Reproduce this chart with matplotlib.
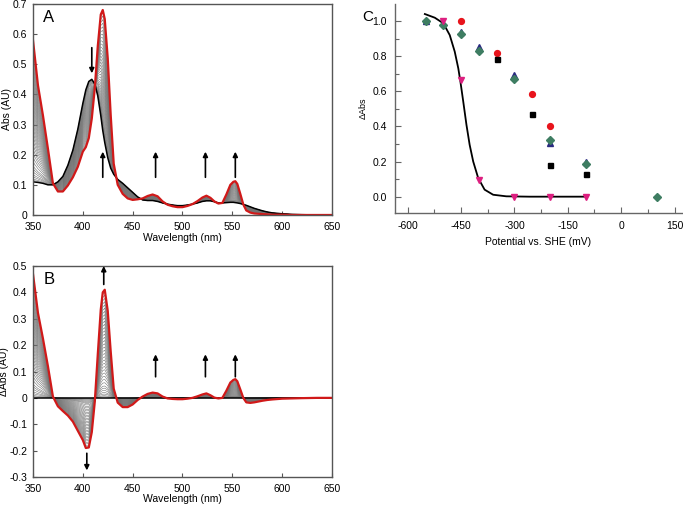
import numpy as np
import matplotlib
matplotlib.use("Agg")
from matplotlib import pyplot as plt

plt.rcParams['font.family'] = ['Liberation Sans', 'DejaVu Sans']
plt.rcParams['axes.unicode_minus'] = False

# wavelength grid (nm) and end-point spectra
wl = [350, 355, 360, 365, 370, 375, 380, 385, 390, 395, 400, 403, 406, 409, 412,
      415, 418, 420, 422, 425, 428, 431, 435, 440, 445, 450, 455, 460, 465, 470,
      475, 480, 485, 490, 495, 500, 505, 510, 515, 520, 524, 528, 532, 536, 540,
      544, 548, 551, 553, 555, 558, 561, 564, 568, 572, 576, 580, 585, 590, 600,
      610, 620, 635, 650]
abs_ox = [0.110, 0.108, 0.105, 0.100, 0.100, 0.110, 0.128, 0.165, 0.215, 0.285,
          0.370, 0.415, 0.443, 0.450, 0.435, 0.395, 0.330, 0.280, 0.240, 0.190,
          0.155, 0.135, 0.118, 0.105, 0.090, 0.075, 0.060, 0.050, 0.048, 0.048,
          0.045, 0.040, 0.036, 0.033, 0.031, 0.031, 0.033, 0.036, 0.040, 0.045,
          0.047, 0.047, 0.044, 0.040, 0.040, 0.041, 0.042, 0.042, 0.041, 0.040,
          0.038, 0.035, 0.032, 0.027, 0.022, 0.018, 0.014, 0.010, 0.007, 0.004,
          0.002, 0.001, 0.000, 0.000]
abs_red = [0.580, 0.430, 0.330, 0.220, 0.105, 0.078, 0.078, 0.098, 0.125, 0.160,
           0.210, 0.225, 0.255, 0.320, 0.420, 0.560, 0.665, 0.680, 0.650, 0.520,
           0.330, 0.170, 0.100, 0.070, 0.055, 0.050, 0.052, 0.055, 0.063, 0.068,
           0.062, 0.045, 0.034, 0.029, 0.026, 0.026, 0.030, 0.036, 0.046, 0.058,
           0.064, 0.057, 0.045, 0.038, 0.040, 0.068, 0.100, 0.110, 0.112, 0.103,
           0.070, 0.035, 0.015, 0.008, 0.005, 0.004, 0.003, 0.002, 0.001, 0.001,
           0.000, 0.000, 0.000, 0.000]
# fraction reduced for each recorded spectrum of the titration
fractions = [0, 0.01, 0.02, 0.035, 0.05, 0.07, 0.09, 0.11, 0.14, 0.17, 0.2, 0.23,
             0.26, 0.29, 0.32, 0.35, 0.38, 0.41, 0.44, 0.47, 0.5, 0.53, 0.56, 0.59,
             0.62, 0.65, 0.68, 0.71, 0.74, 0.77, 0.8, 0.83, 0.86, 0.89, 0.92, 0.95,
             0.98, 1.0]

# panel C: potential (mV) vs normalised dAbs
pot_diamond = [-550, -500, -450, -400, -300, -200, -100, 100]
dabs_diamond = [1.0, 0.98, 0.925, 0.832, 0.672, 0.32, 0.186, 0.0]
pot_tri = [-550, -450, -400, -300, -200, -100]
dabs_tri = [1.0, 0.94, 0.855, 0.695, 0.305, 0.195]
pot_circle = [-450, -350, -250, -200]
dabs_circle = [1.0, 0.816, 0.585, 0.403]
pot_square = [-350, -250, -200, -100]
dabs_square = [0.782, 0.469, 0.182, 0.131]
pot_down = [-500, -450, -400, -300, -200, -100]
dabs_down = [1.0, 0.665, 0.096, 0.0, 0.0, 0.0]
fit_pot = [-552, -524, -500, -482, -468, -458, -452, -444, -435, -426, -416, -402,
           -384, -360, -323, -258, -200, -100]
fit_dabs = [1.040, 1.019, 0.987, 0.920, 0.826, 0.731, 0.655, 0.541, 0.409, 0.295,
            0.200, 0.106, 0.040, 0.011, 0.002, 0.0, 0.0, 0.0]

wl = np.array(wl)
abs_ox = np.array(abs_ox)
abs_red = np.array(abs_red)

fig = plt.figure(figsize=(6.83, 5.08), dpi=100)
axA = fig.add_axes([0.0483, 0.5768, 0.4378, 0.4154])
axB = fig.add_axes([0.0483, 0.0610, 0.4378, 0.4154])
axC = fig.add_axes([0.5783, 0.5807, 0.4202, 0.4114])

spine_col = '#555555'
fs = 7.5


def style_box(ax):
    for s in ax.spines.values():
        s.set_color(spine_col)
        s.set_linewidth(1.0)
    ax.tick_params(direction='in', length=3, width=0.8, color=spine_col,
                   labelsize=fs, top=False, right=False)
    ax.tick_params(axis='x', pad=5)
    ax.tick_params(axis='y', pad=4)


def draw_arrow(ax, x, y0, y1):
    ax.annotate('', xy=(x, y1), xytext=(x, y0),
                arrowprops=dict(arrowstyle='-|>', color='k', lw=1.2,
                                mutation_scale=7, shrinkA=0, shrinkB=0))


# ---- panel A
for f in fractions[1:-1]:
    axA.plot(wl, abs_ox + f * (abs_red - abs_ox), color='0.45', lw=0.4)
axA.plot(wl, abs_ox, color='k', lw=1.1)
axA.plot(wl, abs_red, color='#d11919', lw=1.6)
axA.set_xlim(350, 650)
axA.set_ylim(0, 0.7)
axA.set_xticks(range(350, 651, 50))
axA.set_yticks([0, 0.1, 0.2, 0.3, 0.4, 0.5, 0.6, 0.7])
axA.set_yticklabels(['0', '0.1', '0.2', '0.3', '0.4', '0.5', '0.6', '0.7'])
axA.set_xlabel('Wavelength (nm)', fontsize=fs, labelpad=1)
axA.set_ylabel('Abs (AU)', fontsize=fs, labelpad=1)
style_box(axA)
axA.text(0.035, 0.97, 'A', transform=axA.transAxes, fontsize=12, va='top')
draw_arrow(axA, 409, 0.555, 0.47)
for x in [420, 473, 523, 553]:
    draw_arrow(axA, x, 0.125, 0.21)

# ---- panel B
diff = abs_red - abs_ox
for f in fractions[1:-1]:
    axB.plot(wl, f * diff, color='0.45', lw=0.4)
axB.plot(wl, 0 * diff, color='k', lw=1.1)
axB.plot(wl, diff, color='#d11919', lw=1.6)
axB.set_xlim(350, 650)
axB.set_ylim(-0.3, 0.5)
axB.set_xticks(range(350, 651, 50))
axB.set_yticks([-0.3, -0.2, -0.1, 0, 0.1, 0.2, 0.3, 0.4, 0.5])
axB.set_yticklabels(['-0.3', '-0.2', '-0.1', '0', '0.1', '0.2', '0.3', '0.4', '0.5'])
axB.set_xlabel('Wavelength (nm)', fontsize=fs, labelpad=0)
axB.set_ylabel('\u0394Abs (AU)', fontsize=fs, labelpad=0)
style_box(axB)
axB.text(0.035, 0.97, 'B', transform=axB.transAxes, fontsize=12, va='top')
draw_arrow(axB, 421, 0.43, 0.5)
draw_arrow(axB, 404, -0.21, -0.275)
for x in [473, 523, 553]:
    draw_arrow(axB, x, 0.08, 0.165)

# ---- panel C
ms = 4.2
axC.plot(fit_pot, fit_dabs, color='k', lw=1.3, zorder=2)
axC.plot(pot_tri, dabs_tri, '^', color='#2a2a80', ms=ms, ls='none', zorder=3)
axC.plot(pot_diamond, dabs_diamond, 'D', color='#3e7d62', ms=ms - 0.6, ls='none', zorder=4)
axC.plot(pot_circle, dabs_circle, 'o', color='#e8141c', ms=ms, ls='none', zorder=3)
axC.plot(pot_square, dabs_square, 's', color='k', ms=ms - 0.6, ls='none', zorder=3)
axC.plot(pot_down, dabs_down, 'v', color='#dd1f80', ms=ms, ls='none', zorder=5)
axC.set_xlim(-636, 171)
axC.set_ylim(-0.093, 1.097)
axC.set_xticks([-600, -450, -300, -150, 0, 150])
axC.set_xticks([-525, -375, -225, -75, 75], minor=True)
axC.set_yticks([0, 0.2, 0.4, 0.6, 0.8, 1.0])
axC.set_yticks([0.1, 0.3, 0.5, 0.7, 0.9], minor=True)
axC.set_yticklabels(['0.0', '0.2', '0.4', '0.6', '0.8', '1.0'])
axC.spines['top'].set_visible(False)
axC.spines['right'].set_visible(False)
for s in ['left', 'bottom']:
    axC.spines[s].set_color('#666666')
    axC.spines[s].set_linewidth(1.0)
axC.tick_params(which='both', direction='in', color='#666666', width=0.8,
                labelsize=fs, pad=6)
axC.tick_params(which='major', length=4)
axC.tick_params(which='minor', length=3)
axC.set_xlabel('Potential vs. SHE (mV)', fontsize=fs, labelpad=4)
axC.set_ylabel('\u0394Abs', fontsize=6.5, labelpad=3)
fig.text(0.531, 0.967, 'C', fontsize=11, va='center', ha='left')

fig.savefig('out.png', dpi=100)
